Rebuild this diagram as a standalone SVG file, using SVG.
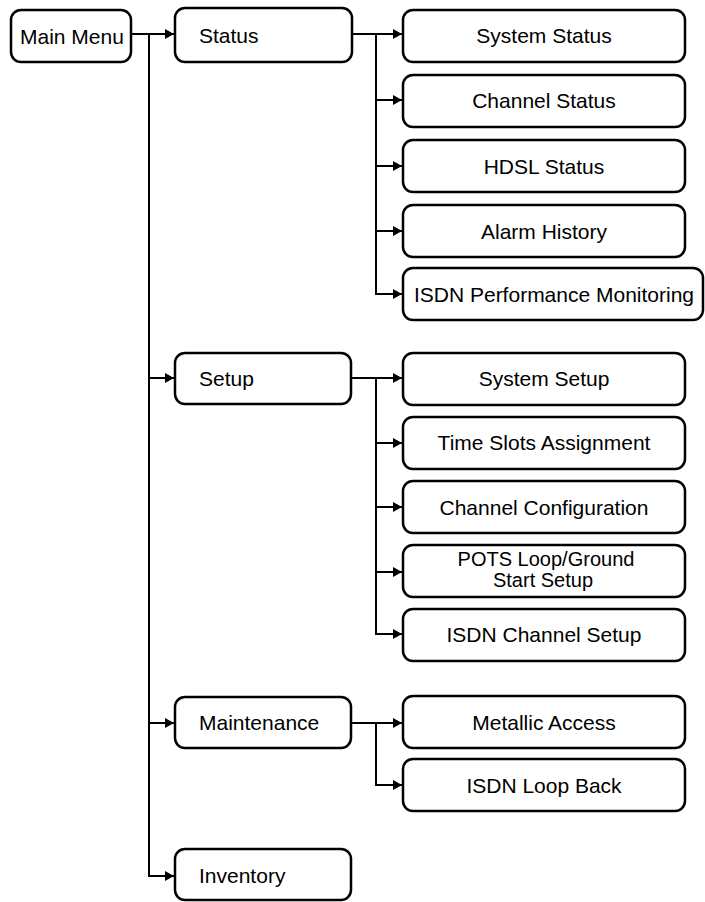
<svg xmlns="http://www.w3.org/2000/svg" width="705" height="902" viewBox="0 0 705 902">
<style>
.box{fill:#fff;stroke:#000;stroke-width:2.5}
.t{font-family:"Liberation Sans",Arial,sans-serif;font-size:21px;fill:#000}
.s{font-size:20px}
.c{text-anchor:middle}
.ln{fill:none;stroke:#000;stroke-width:2}
</style>
<defs>
<marker id="ah" markerUnits="userSpaceOnUse" markerWidth="9" markerHeight="10" refX="9" refY="5" orient="auto">
<path d="M0,0 L9,5 L0,10 z" fill="#000"/>
</marker>
</defs>
<rect width="705" height="902" fill="#fff"/>
<g id="connectors">
<path class="ln" d="M131,34 H174" marker-end="url(#ah)"/>
<path class="ln" d="M149,34 V876 H174" marker-end="url(#ah)"/>
<path class="ln" d="M149,378 H174" marker-end="url(#ah)"/>
<path class="ln" d="M149,723 H174" marker-end="url(#ah)"/>
<path class="ln" d="M352,34 H402" marker-end="url(#ah)"/>
<path class="ln" d="M376,34 V294 H402" marker-end="url(#ah)"/>
<path class="ln" d="M376,100 H402" marker-end="url(#ah)"/>
<path class="ln" d="M376,166 H402" marker-end="url(#ah)"/>
<path class="ln" d="M376,231 H402" marker-end="url(#ah)"/>
<path class="ln" d="M351,378 H402" marker-end="url(#ah)"/>
<path class="ln" d="M376,378 V634 H402" marker-end="url(#ah)"/>
<path class="ln" d="M376,443 H402" marker-end="url(#ah)"/>
<path class="ln" d="M376,507 H402" marker-end="url(#ah)"/>
<path class="ln" d="M376,572 H402" marker-end="url(#ah)"/>
<path class="ln" d="M351,723 H402" marker-end="url(#ah)"/>
<path class="ln" d="M376,723 V785 H402" marker-end="url(#ah)"/>
</g>
<g id="main-menu"><rect class="box" x="11" y="10" width="120" height="52" rx="10"/><text class="t" x="20" y="44">Main Menu</text></g>
<g id="status"><rect class="box" x="175" y="8" width="177" height="54" rx="10"/><text class="t" x="199" y="43">Status</text></g>
<g id="setup"><rect class="box" x="175" y="353" width="176" height="51" rx="10"/><text class="t" x="199" y="386">Setup</text></g>
<g id="maintenance"><rect class="box" x="175" y="697" width="176" height="51" rx="10"/><text class="t" x="199" y="730">Maintenance</text></g>
<g id="inventory"><rect class="box" x="175" y="849" width="176" height="51" rx="10"/><text class="t" x="199" y="883">Inventory</text></g>
<g id="system-status"><rect class="box" x="403" y="10" width="282" height="52" rx="10"/><text class="t c" x="544" y="43">System Status</text></g>
<g id="channel-status"><rect class="box" x="403" y="75" width="282" height="52" rx="10"/><text class="t c" x="544" y="108">Channel Status</text></g>
<g id="hdsl-status"><rect class="box" x="403" y="140" width="282" height="52" rx="10"/><text class="t c" x="544" y="174">HDSL Status</text></g>
<g id="alarm-history"><rect class="box" x="403" y="205" width="282" height="52" rx="10"/><text class="t c" x="544" y="239">Alarm History</text></g>
<g id="isdn-pm"><rect class="box" x="403" y="268" width="300" height="52" rx="10"/><text class="t c" x="554" y="302">ISDN Performance Monitoring</text></g>
<g id="system-setup"><rect class="box" x="403" y="353" width="282" height="52" rx="10"/><text class="t c" x="544" y="386">System Setup</text></g>
<g id="time-slots"><rect class="box" x="403" y="417" width="282" height="52" rx="10"/><text class="t c" x="544" y="450">Time Slots Assignment</text></g>
<g id="channel-config"><rect class="box" x="403" y="481" width="282" height="52" rx="10"/><text class="t c" x="544" y="515">Channel Configuration</text></g>
<g id="pots"><rect class="box" x="403" y="545" width="282" height="52" rx="10"/><text class="t s c" x="546" y="566">POTS Loop/Ground</text><text class="t s c" x="543" y="587">Start Setup</text></g>
<g id="isdn-channel-setup"><rect class="box" x="403" y="609" width="282" height="52" rx="10"/><text class="t c" x="544" y="642">ISDN Channel Setup</text></g>
<g id="metallic-access"><rect class="box" x="403" y="696" width="282" height="52" rx="10"/><text class="t c" x="544" y="730">Metallic Access</text></g>
<g id="isdn-loop-back"><rect class="box" x="403" y="759" width="282" height="52" rx="10"/><text class="t c" x="544" y="793">ISDN Loop Back</text></g>
</svg>
